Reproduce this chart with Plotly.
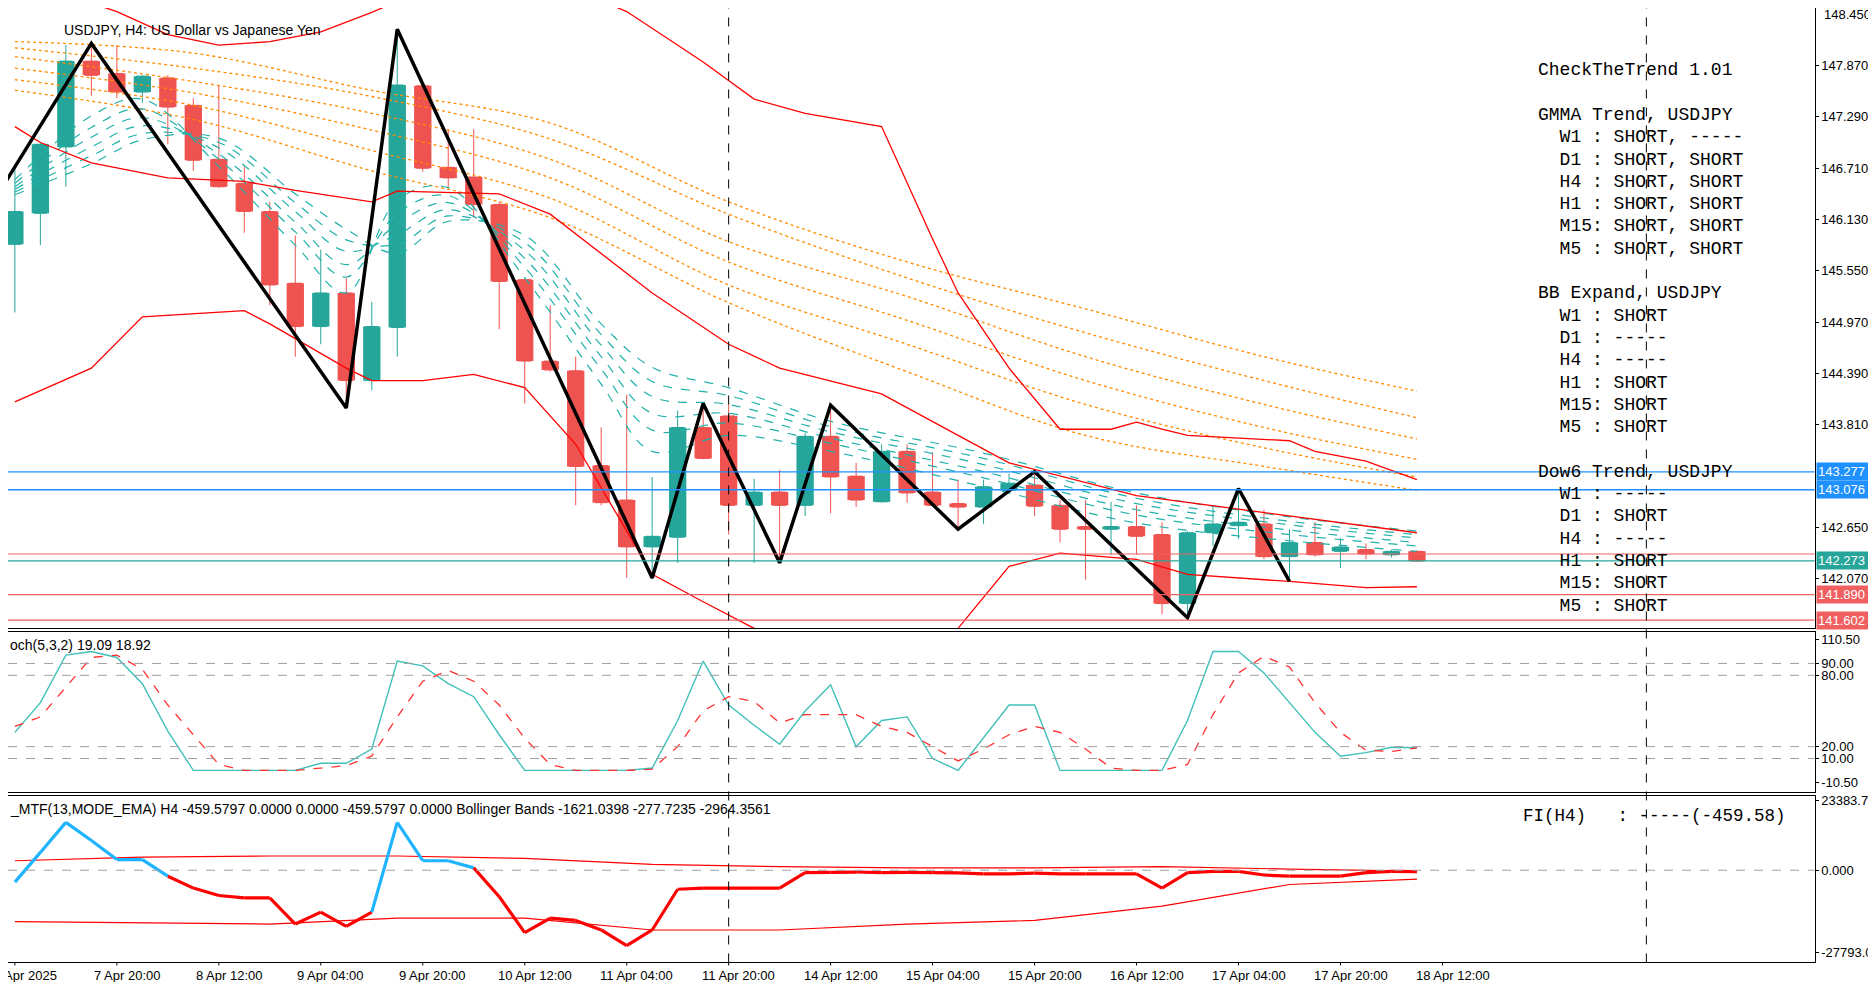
import plotly.graph_objects as go

W, H = 1876, 982
DW, DH = 1568.0, 820.0  # reference design grid

# ---------------- data ----------------
bars = list(range(56))
opens = [145.85,146.20,146.95,147.92,147.78,147.57,147.73,147.42,146.81,146.54,146.22,145.41,144.92,145.30,144.31,144.91,
         147.64,146.72,146.61,146.30,145.45,144.53,144.42,143.35,142.96,142.43,142.54,143.78,143.91,142.90,143.05,142.90,
         143.68,143.23,142.94,143.51,143.05,142.92,142.88,143.07,143.13,142.90,142.66,142.63,142.66,142.57,141.79,142.59,
         142.67,142.69,142.32,142.48,142.38,142.40,142.34,142.38]
highs = [146.73,147.00,148.10,148.10,148.10,147.76,147.76,147.50,147.65,146.73,146.33,145.95,145.79,145.47,145.20,148.28,
         147.65,147.15,147.15,146.33,145.46,145.16,144.58,143.78,144.15,143.22,143.97,144.05,144.05,143.20,143.30,143.72,
         144.03,143.38,143.59,143.59,143.50,143.19,143.19,143.26,143.28,142.96,142.96,142.94,142.90,142.71,142.61,142.88,
         143.09,142.85,142.63,142.71,142.53,142.47,142.40,142.39]
lows = [145.08,145.84,146.50,147.53,147.50,147.45,146.98,146.68,146.49,145.98,145.16,144.58,144.72,144.00,144.20,144.58,
        146.67,146.50,146.15,144.89,144.05,144.41,142.90,142.90,142.08,142.08,142.25,143.42,142.57,142.25,142.25,142.78,
        142.81,142.88,142.93,142.93,142.90,142.63,142.69,143.04,142.78,142.48,142.06,142.34,142.34,141.67,141.63,142.44,
        142.52,142.29,142.04,142.32,142.19,142.29,142.31,142.26]
closes = [146.22,146.98,147.92,147.76,147.57,147.75,147.40,146.80,146.50,146.22,145.39,144.92,145.30,144.31,144.92,147.65,
          146.71,146.60,146.30,145.43,144.53,144.43,143.34,142.93,142.43,142.55,143.78,143.43,142.90,143.05,142.90,143.68,
          143.22,142.96,143.51,143.04,142.90,142.88,143.11,143.15,142.89,142.63,142.63,142.66,142.55,141.79,142.59,142.69,
          142.71,142.32,142.48,142.34,142.43,142.35,142.38,142.27]

zz_x = [-1, 3, 13, 15, 25, 27, 30, 32, 37, 40, 46, 48, 50]
zz_y = [146.26,148.12,144.00,148.28,142.08,144.05,142.25,144.03,142.63,143.28,141.63,143.09,142.04]

gl_x = [0, 7, 14, 21, 28, 35, 42, 49, 55]
gmma_long = [
    [148.14,148.01,147.59,147.22,146.33,145.65,145.12,144.58,144.19],
    [148.07,147.84,147.52,147.04,146.19,145.47,144.85,144.31,143.89],
    [147.97,147.69,147.33,146.81,145.88,145.26,144.58,144.04,143.65],
    [147.84,147.56,147.14,146.60,145.65,144.99,144.31,143.78,143.42],
    [147.71,147.42,146.91,146.37,145.39,144.72,144.04,143.55,143.22],
    [147.59,147.26,146.68,146.15,145.19,144.41,143.69,143.34,143.07],
]
gs_x = [0, 3, 5, 8, 11, 13, 15, 17, 20, 23, 25, 28, 32, 38, 44, 50, 55]
gmma_short = [
    [146.58,147.30,147.49,146.73,145.84,145.30,146.35,146.49,145.47,144.27,143.51,143.69,143.51,143.11,142.70,142.50,142.38],
    [146.54,147.17,147.38,146.81,145.99,145.48,146.20,146.40,145.59,144.44,143.75,143.83,143.60,143.21,142.79,142.57,142.44],
    [146.50,147.06,147.28,146.87,146.10,145.62,146.08,146.32,145.69,144.58,143.94,143.94,143.66,143.28,142.85,142.62,142.48],
    [146.47,146.95,147.19,146.94,146.22,145.77,145.96,146.24,145.78,144.71,144.13,144.04,143.73,143.36,142.92,142.68,142.53],
    [146.44,146.85,147.10,147.00,146.32,145.90,145.85,146.17,145.87,144.83,144.30,144.14,143.79,143.43,142.98,142.72,142.57],
    [146.41,146.76,147.03,147.05,146.42,146.02,145.75,146.11,145.95,144.95,144.46,144.23,143.85,143.49,143.04,142.77,142.61],
]

bbu_x = [0,4,6,8,10,12,14,16,19,22,24,27,29,31,34,36,37,39,41,43,44,45,46,50,51,53,55]
bbu_y = [148.86,148.48,148.22,148.10,148.14,148.25,148.47,148.72,148.93,148.72,148.48,147.91,147.49,147.33,147.18,145.91,
         145.30,144.45,143.76,143.76,143.84,143.76,143.69,143.63,143.51,143.40,143.19]
bbm_x = [0,1,3,6,9,11,14,15,19,21,25,28,30,34,37,39,44,49,55]
bbm_y = [147.18,147.00,146.77,146.60,146.56,146.46,146.33,146.45,146.42,146.19,145.30,144.72,144.45,144.16,143.69,143.38,
         143.01,142.82,142.59]
bbl_x = [0,3,5,9,10,13,14,16,18,20,22,25,27,29,33,37,39,41,44,46,50,53,55]
bbl_y = [144.07,144.45,145.03,145.10,144.95,144.45,144.31,144.31,144.38,144.23,143.59,142.12,141.81,141.51,140.67,141.51,
         142.21,142.36,142.29,142.12,142.04,141.97,141.98]

stoch_main = [32,57,97,100,95,73,33,0,0,0,0,0,6,6,18,92,88,73,62,30,0,0,0,0,0,2,42,92,55,38,22,50,72,20,42,45,10,0,28,
              55,55,0,0,0,0,0,42,100,100,82,57,32,12,15,19.5,19.09]
stoch_sig = [37,45,70,95,97,85,55,30,5,0,0,0,2,4,12,45,75,84,75,55,27,5,0,0,0,1,20,50,62,58,40,47,47,47,37,32,20,8,18,
             30,37,32,18,2,0,0,5,47,82,96,87,57,32,17,16,18.92]
stoch_levels = [90, 80, 20, 10]
stoch_ticks = [110.5, 90, 80, 20, 10, -10.5]

fi_vals = [-4000,6000,16100,10000,3600,3600,-2000,-6000,-8500,-9300,-9300,-18100,-14100,-18900,-14100,16100,3200,3200,800,
           -8900,-21000,-16100,-16900,-20100,-25400,-20100,-6400,-6000,-6000,-6000,-6000,-800,-700,-600,-800,-700,-800,
           -900,-1200,-1200,-1000,-1200,-1200,-1200,-1200,-6000,-800,-400,-400,-1600,-2000,-2000,-2000,-800,-400,-459.58]
fib_x = [0,5,10,15,20,25,30,35,40,45,50,55]
fi_upper = [3200,4400,4800,4800,4000,2000,1200,800,800,1200,400,-277.72]
fi_lower = [-17300,-17700,-18100,-16100,-16100,-20100,-20100,-18100,-16900,-12100,-4800,-2964.36]
fi_ticks = [23383.77, 0.0, -27793.00]
fi_ticktext = ["23383.77", "0.000", "-27793.00"]

price_ticks = [147.87,147.29,146.71,146.13,145.55,144.97,144.39,143.81,142.65,142.07]
price_top = 148.45
hlines_blue = [143.277, 143.076]
hlines_red = [141.890, 141.602]
ask_line = 142.35
bid_line = 142.273

x_tickvals = list(range(0, 57, 4))
x_ticktext = ["7 Apr 2025","7 Apr 20:00","8 Apr 12:00","9 Apr 04:00","9 Apr 20:00","10 Apr 12:00","11 Apr 04:00",
              "11 Apr 20:00","14 Apr 12:00","15 Apr 04:00","15 Apr 20:00","16 Apr 12:00","17 Apr 04:00","17 Apr 20:00",
              "18 Apr 12:00"]
separators = [28, 64]

panel_text = ["CheckTheTrend 1.01", "", "GMMA Trend, USDJPY", "  W1 : SHORT, -----", "  D1 : SHORT, SHORT",
              "  H4 : SHORT, SHORT", "  H1 : SHORT, SHORT", "  M15: SHORT, SHORT", "  M5 : SHORT, SHORT", "",
              "BB Expand, USDJPY", "  W1 : SHORT", "  D1 : -----", "  H4 : -----", "  H1 : SHORT", "  M15: SHORT",
              "  M5 : SHORT", "", "Dow6 Trend, USDJPY", "  W1 : -----", "  D1 : SHORT", "  H4 : -----", "  H1 : SHORT",
              "  M15: SHORT", "  M5 : SHORT"]

# ---------------- layout helpers ----------------
def py(d):  # design y px -> paper
    return 1 - d / DH
def px(d):
    return d / DW

XD = [0, px(1510)]
MAIN = [py(518), 1.0]
STO = [py(655), py(521)]
FIP = [py(797), py(658)]
XR = [-0.27, 70.6]

TEAL = "#26A69A"
RED = "#EF5350"
FONT = "Liberation Sans"
MONO = "Liberation Mono"

fig = go.Figure()

for s in gmma_long:
    fig.add_trace(go.Scatter(x=gl_x, y=s, mode="lines", line=dict(color="#FF8C00", width=1.3, dash="dot", shape="spline"),
                             xaxis="x", yaxis="y", hoverinfo="skip"))
for s in gmma_short:
    fig.add_trace(go.Scatter(x=gs_x, y=s, mode="lines", line=dict(color="#20B2AA", width=1.2, dash="dash", shape="spline"),
                             xaxis="x", yaxis="y", hoverinfo="skip"))
for bx, by in [(bbu_x, bbu_y), (bbm_x, bbm_y), (bbl_x, bbl_y)]:
    fig.add_trace(go.Scatter(x=bx, y=by, mode="lines", line=dict(color="#FF0000", width=1.3),
                             xaxis="x", yaxis="y", hoverinfo="skip"))

fig.add_trace(go.Candlestick(x=bars, open=opens, high=highs, low=lows, close=closes,
                             increasing=dict(line=dict(color=TEAL, width=1), fillcolor=TEAL),
                             decreasing=dict(line=dict(color=RED, width=1), fillcolor=RED),
                             whiskerwidth=0, xaxis="x", yaxis="y"))
body_base = [min(o, c) for o, c in zip(opens, closes)]
body_len = [max(abs(c - o), 0.012) for o, c in zip(opens, closes)]
body_col = [TEAL if c >= o else RED for o, c in zip(opens, closes)]
fig.add_trace(go.Bar(x=bars, y=body_len, base=body_base, width=0.68, marker=dict(color=body_col, line=dict(width=0)),
                     xaxis="x", yaxis="y", hoverinfo="skip"))
fig.add_trace(go.Scatter(x=zz_x, y=zz_y, mode="lines", line=dict(color="black", width=3.5),
                         xaxis="x", yaxis="y", hoverinfo="skip"))

fig.add_trace(go.Scatter(x=bars, y=stoch_main, mode="lines", line=dict(color="#40C0B8", width=1.4),
                         xaxis="x2", yaxis="y2"))
fig.add_trace(go.Scatter(x=bars, y=stoch_sig, mode="lines", line=dict(color="#FF3030", width=1.3, dash="dash"),
                         xaxis="x2", yaxis="y2"))

fig.add_trace(go.Scatter(x=fib_x, y=fi_upper, mode="lines", line=dict(color="#FF0000", width=1.2), xaxis="x3", yaxis="y3"))
fig.add_trace(go.Scatter(x=fib_x, y=fi_lower, mode="lines", line=dict(color="#FF0000", width=1.2), xaxis="x3", yaxis="y3"))
for k in range(len(fi_vals) - 1):
    a, b = fi_vals[k], fi_vals[k + 1]
    col = "#1EB4FF" if (a + b) / 2 > 0 and max(a, b) > 1500 else "#FF0000"
    fig.add_trace(go.Scatter(x=[bars[k], bars[k + 1]], y=[a, b], mode="lines", line=dict(color=col, width=3.2),
                             xaxis="x3", yaxis="y3", hoverinfo="skip"))

shapes = []
for v in hlines_blue:
    shapes.append(dict(type="line", xref="paper", yref="y", x0=0, x1=XD[1], y0=v, y1=v, line=dict(color="#1E90FF", width=1.3)))
for v in hlines_red:
    shapes.append(dict(type="line", xref="paper", yref="y", x0=0, x1=XD[1], y0=v, y1=v, line=dict(color="#F06060", width=1.3)))
shapes.append(dict(type="line", xref="paper", yref="y", x0=0, x1=XD[1], y0=ask_line, y1=ask_line, line=dict(color="#F06060", width=1)))
shapes.append(dict(type="line", xref="paper", yref="y", x0=0, x1=XD[1], y0=bid_line, y1=bid_line, line=dict(color=TEAL, width=1.3)))
for v in stoch_levels:
    shapes.append(dict(type="line", xref="paper", yref="y2", x0=0, x1=XD[1], y0=v, y1=v, line=dict(color="#A0A0A0", width=1, dash="dash")))
shapes.append(dict(type="line", xref="paper", yref="y3", x0=0, x1=XD[1], y0=0, y1=0, line=dict(color="#A0A0A0", width=1, dash="dash")))
for s in separators:
    shapes.append(dict(type="line", xref="x", yref="paper", x0=s, x1=s, y0=FIP[0], y1=1, line=dict(color="black", width=1, dash="dash")))
for t in x_tickvals:
    shapes.append(dict(type="line", xref="x", yref="paper", x0=t, x1=t, y0=FIP[0], y1=FIP[0] - 3.0 / H, line=dict(color="black", width=1)))

ann = []
def label_box(yref, v, text, bg):
    ann.append(dict(xref="paper", yref=yref, x=XD[1] + 0.0008, y=v, text=text, showarrow=False, xanchor="left",
                    yanchor="middle", font=dict(family=FONT, size=13, color="white"), bgcolor=bg, borderpad=1, width=62, align="left"))
label_box("y", 143.277, "143.277", "#1E90FF")
label_box("y", 143.076, "143.076", "#1E90FF")
label_box("y", bid_line, "142.273", TEAL)
label_box("y", 141.890, "141.890", "#F06060")
label_box("y", 141.602, "141.602", "#F06060")
ann.append(dict(xref="paper", yref="y", x=XD[1] + 0.004, y=price_top, text=f"{price_top:.3f}", showarrow=False,
                xanchor="left", yanchor="middle", font=dict(family=FONT, size=13, color="black")))
for t, lab in zip(x_tickvals, x_ticktext):
    ann.append(dict(xref="x3", yref="paper", x=t + 0.4, y=py(808), text=lab, showarrow=False,
                    xanchor="center", yanchor="middle", font=dict(family=FONT, size=13, color="black")))

ann.append(dict(xref="paper", yref="paper", x=px(45), y=py(18), text="USDJPY, H4: US Dollar vs Japanese Yen", showarrow=False,
                xanchor="left", yanchor="middle", font=dict(family=FONT, size=14, color="black")))
ann.append(dict(xref="paper", yref="paper", x=0, y=py(532), text="och(5,3,2) 19.09 18.92", showarrow=False,
                xanchor="left", yanchor="middle", font=dict(family=FONT, size=14, color="black")))
ann.append(dict(xref="paper", yref="paper", x=0, y=py(669),
                text="_MTF(13,MODE_EMA) H4 -459.5797 0.0000 0.0000 -459.5797 0.0000 Bollinger Bands -1621.0398 -277.7235 -2964.3561",
                showarrow=False, xanchor="left", yanchor="middle", font=dict(family=FONT, size=14, color="black")))
for k, line in enumerate(panel_text):
    if not line:
        continue
    ann.append(dict(xref="paper", yref="paper", x=px(1277), y=py(52 + 18.63 * k), text=line.replace(" ", "\u00a0"),
                    showarrow=False, xanchor="left", yanchor="middle", font=dict(family=MONO, size=18, color="black")))
ann.append(dict(xref="paper", yref="paper", x=px(1265), y=py(675), text="FI(H4)\u00a0\u00a0\u00a0:\u00a0-----(-459.58)",
                showarrow=False, xanchor="left", yanchor="middle", font=dict(family=MONO, size=17.5, color="black")))

axis_common = dict(showgrid=False, zeroline=False, showline=True, linecolor="black", linewidth=1, mirror=True,
                   ticks="outside", ticklen=3, tickcolor="black", tickfont=dict(family=FONT, size=13, color="black"), automargin=False)

fig.update_layout(
    width=W, height=H, margin=dict(l=0, r=0, t=0, b=0), paper_bgcolor="white", plot_bgcolor="white", showlegend=False,
    barmode="overlay",
    xaxis=dict(domain=XD, range=XR, anchor="y", showticklabels=False, rangeslider=dict(visible=False), **axis_common),
    xaxis2=dict(domain=XD, range=XR, anchor="y2", showticklabels=False, matches="x", **axis_common),
    xaxis3=dict(domain=XD, range=XR, anchor="y3", showticklabels=False, matches="x", **axis_common),
    yaxis=dict(domain=MAIN, range=[141.51, 148.52], side="right", tickvals=price_ticks,
               ticktext=[f"{v:.3f}" for v in price_ticks], **axis_common),
    yaxis2=dict(domain=STO, range=[-18.5, 116.5], side="right", tickvals=stoch_ticks,
                ticktext=[f"{v:.2f}" for v in stoch_ticks], **axis_common),
    yaxis3=dict(domain=FIP, range=[-31031, 24986], side="right", tickvals=fi_ticks, ticktext=fi_ticktext, **axis_common),
    shapes=shapes, annotations=ann,
)
fig.update_xaxes(ticks="")

fig.write_html("out.html")
